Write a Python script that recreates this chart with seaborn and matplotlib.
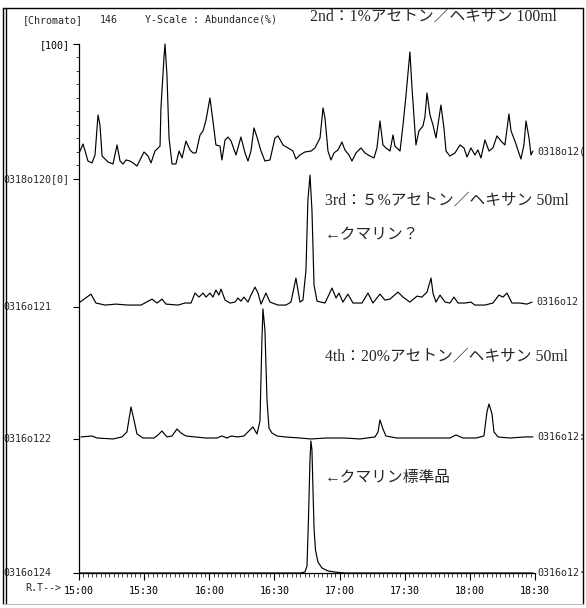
import numpy as np
import pandas as pd
import matplotlib
matplotlib.use("Agg")
import matplotlib.pyplot as plt
import seaborn as sns
from matplotlib.ticker import MultipleLocator, FixedLocator
from matplotlib.lines import Line2D

# ---------------- data (retention time in min, abundance in %) ----------------
t_2nd = [15.008, 15.031, 15.069, 15.100, 15.123, 15.146, 15.161, 15.177, 15.223, 15.261,
         15.292, 15.315, 15.338, 15.361, 15.391, 15.415, 15.445, 15.476, 15.499, 15.530,
         15.553, 15.583, 15.622, 15.629, 15.652, 15.660, 15.675, 15.691, 15.714, 15.744,
         15.768, 15.791, 15.821, 15.852, 15.875, 15.898, 15.929, 15.952, 15.975, 16.005,
         16.028, 16.051, 16.082, 16.097, 16.121, 16.144, 16.167, 16.205, 16.243, 16.274,
         16.297, 16.320, 16.343, 16.366, 16.397, 16.427, 16.466, 16.504, 16.527, 16.566,
         16.604, 16.642, 16.665, 16.696, 16.734, 16.781, 16.811, 16.850, 16.873, 16.888,
         16.911, 16.934, 16.957, 16.988, 17.018, 17.041, 17.072, 17.095, 17.126, 17.164,
         17.195, 17.233, 17.264, 17.287, 17.310, 17.333, 17.356, 17.387, 17.410, 17.425,
         17.464, 17.487, 17.510, 17.540, 17.556, 17.579, 17.586, 17.609, 17.640, 17.655,
         17.671, 17.694, 17.717, 17.740, 17.778, 17.801, 17.817, 17.847, 17.886, 17.924,
         17.955, 17.978, 18.008, 18.039, 18.062, 18.085, 18.116, 18.147, 18.177, 18.208,
         18.239, 18.269, 18.300, 18.316, 18.346, 18.369, 18.392, 18.415, 18.431, 18.454,
         18.469, 18.484]
v_2nd = [20.7, 25.9, 13.3, 11.9, 17.8, 47.4, 40.0, 17.0, 12.6, 11.1,
         25.2, 13.3, 11.1, 14.1, 13.3, 11.9, 9.6, 15.6, 20.0, 17.0,
         11.9, 20.7, 24.4, 52.6, 89.6, 100.0, 77.0, 30.4, 11.1, 11.1,
         20.7, 15.6, 28.1, 21.5, 19.3, 19.3, 32.6, 35.6, 43.7, 60.0,
         43.0, 25.2, 24.4, 14.1, 28.9, 31.1, 28.1, 17.8, 31.1, 19.3,
         13.3, 20.7, 37.8, 31.1, 20.7, 13.3, 14.1, 30.4, 31.9, 25.2,
         23.0, 20.7, 14.8, 17.8, 20.0, 20.7, 23.0, 30.4, 52.6, 45.2,
         20.7, 14.1, 19.3, 21.5, 27.4, 21.5, 17.8, 13.3, 19.3, 23.0,
         19.3, 17.0, 15.6, 23.0, 43.0, 25.2, 23.0, 20.7, 32.6, 24.4,
         20.7, 40.0, 62.2, 94.1, 67.4, 35.6, 25.2, 35.6, 39.3, 45.9,
         63.7, 47.4, 40.0, 30.4, 54.8, 37.8, 20.7, 17.0, 19.3, 25.2,
         23.0, 16.3, 23.0, 17.8, 21.5, 15.6, 28.9, 20.7, 23.0, 31.9,
         28.1, 25.2, 48.1, 35.6, 28.1, 21.5, 14.8, 25.2, 43.0, 30.4,
         17.8, 20.7]

t_3rd = [15.008, 15.092, 15.130, 15.200, 15.284, 15.376, 15.476, 15.560, 15.599, 15.637,
         15.668, 15.760, 15.813, 15.860, 15.890, 15.921, 15.952, 15.975, 16.005, 16.028,
         16.051, 16.074, 16.090, 16.121, 16.159, 16.197, 16.220, 16.243, 16.266, 16.297,
         16.320, 16.351, 16.374, 16.397, 16.435, 16.466, 16.527, 16.589, 16.627, 16.665,
         16.696, 16.719, 16.742, 16.757, 16.773, 16.788, 16.804, 16.827, 16.888, 16.942,
         16.973, 16.995, 17.026, 17.064, 17.103, 17.172, 17.218, 17.256, 17.310, 17.348,
         17.387, 17.448, 17.487, 17.540, 17.594, 17.632, 17.671, 17.702, 17.717, 17.740,
         17.771, 17.809, 17.847, 17.878, 17.909, 17.962, 18.008, 18.039, 18.116, 18.177,
         18.223, 18.254, 18.285, 18.323, 18.384, 18.438, 18.477]
v_3rd = [3.7, 9.6, 3.0, 1.5, 2.2, 1.5, 1.5, 5.9, 3.0, 5.9,
         2.2, 1.5, 3.0, 3.0, 10.4, 7.4, 10.4, 7.4, 10.4, 7.4,
         12.6, 8.9, 13.3, 5.2, 3.0, 3.7, 6.7, 4.4, 7.4, 3.7,
         8.9, 14.8, 10.4, 2.2, 10.4, 3.7, 1.5, 1.5, 3.7, 21.5,
         3.7, 5.2, 27.4, 79.3, 97.8, 71.9, 16.3, 4.4, 3.0, 14.1,
         6.7, 10.4, 3.7, 9.6, 3.0, 3.0, 10.4, 3.0, 9.6, 5.2,
         5.9, 11.1, 7.4, 3.7, 8.1, 7.4, 11.1, 21.5, 10.4, 3.7,
         8.9, 3.7, 3.0, 7.4, 3.0, 3.0, 3.7, 1.5, 1.5, 3.0,
         8.9, 7.4, 10.4, 3.0, 3.0, 2.2, 3.7]

t_4th = [15.015, 15.100, 15.138, 15.261, 15.330, 15.368, 15.399, 15.422, 15.445, 15.491,
         15.576, 15.607, 15.637, 15.675, 15.714, 15.752, 15.783, 15.821, 15.890, 15.975,
         16.059, 16.097, 16.136, 16.167, 16.220, 16.266, 16.297, 16.335, 16.366, 16.389,
         16.404, 16.412, 16.427, 16.443, 16.458, 16.481, 16.520, 16.581, 16.696, 16.781,
         16.896, 17.041, 17.157, 17.272, 17.295, 17.310, 17.333, 17.356, 17.440, 17.556,
         17.701, 17.847, 17.893, 17.947, 18.047, 18.108, 18.131, 18.147, 18.170, 18.185,
         18.216, 18.308, 18.423, 18.484]
v_4th = [1.5, 2.2, 0.7, 0.0, 1.5, 5.2, 23.7, 14.1, 3.7, 0.7,
         0.7, 3.0, 5.9, 1.5, 2.2, 7.4, 4.4, 2.2, 1.5, 0.7,
         0.7, 2.2, 0.7, 2.2, 1.5, 2.2, 5.2, 8.9, 3.7, 13.3,
         73.3, 96.3, 80.7, 28.9, 8.1, 4.4, 2.2, 1.5, 0.7, 0.0,
         0.7, 0.7, 0.0, 1.5, 5.2, 14.1, 7.4, 2.2, 0.7, 0.7,
         0.7, 0.7, 3.0, 0.7, 0.7, 2.2, 20.0, 25.9, 18.5, 5.2,
         1.5, 0.7, 1.5, 1.5]

t_std = [15.008, 16.696, 16.734, 16.750, 16.761, 16.773, 16.780, 16.788, 16.796, 16.804,
         16.815, 16.834, 16.865, 16.911, 16.965, 17.041, 18.484]
v_std = [0.0, 0.0, 0.7, 5.2, 39.3, 83.7, 97.8, 91.1, 61.5, 33.3,
         17.0, 8.1, 3.7, 1.5, 0.7, 0.0, 0.0]

left_labels = ["0318o120[0]", "0316o121", "0316o122", "0316o124"]
right_labels = ["0318o12(", "0316o12", "0316o12:", "0316o12\u00b7"]
x_tick_times = [15.0, 15.5, 16.0, 16.5, 17.0, 17.5, 18.0, 18.5]
x_tick_labels = ["15:00", "15:30", "16:00", "16:30", "17:00", "17:30", "18:00", "18:30"]
header_parts = ["[Chromato]", "146", "Y-Scale : Abundance(%)"]
notes = ["2nd\uff1a1%\u30a2\u30bb\u30c8\u30f3\uff0f\u30d8\u30ad\u30b5\u30f3 100ml",
         "3rd\uff1a\uff15%\u30a2\u30bb\u30c8\u30f3\uff0f\u30d8\u30ad\u30b5\u30f3 50ml",
         "\u2190\u30af\u30de\u30ea\u30f3\uff1f",
         "4th\uff1a20%\u30a2\u30bb\u30c8\u30f3\uff0f\u30d8\u30ad\u30b5\u30f3 50ml",
         "\u2190\u30af\u30de\u30ea\u30f3\u6a19\u6e96\u54c1"]

# ---------------- layout ----------------
sns.set_style("ticks")
MONO = ["DejaVu Sans Mono", "Noto Sans CJK JP"]
SERIF = ["Liberation Serif", "Noto Sans CJK JP"]
plt.rcParams["font.family"] = MONO

W, H = 586, 608
def fx(px):
    return px / W
def fy(py):
    return 1 - py / H

offsets = [291.9, 197.0, 99.3, 0.0]   # stacking offset of each run (track base)
top = 391.9

frames = []
for name, t, v, off in zip(left_labels, [t_2nd, t_3rd, t_4th, t_std],
                           [v_2nd, v_3rd, v_4th, v_std], offsets):
    frames.append(pd.DataFrame({"t": t, "y": np.asarray(v) + off, "run": name}))
df = pd.concat(frames, ignore_index=True)

fig = plt.figure(figsize=(W / 100, H / 100), dpi=100)
ax = fig.add_axes([fx(79), fy(573), (535 - 79) / W, (573 - 44) / H])

sns.lineplot(data=df, x="t", y="y", units="run", estimator=None, sort=False,
             color="black", lw=0.85, ax=ax, legend=False)
for line in ax.lines:
    line.set_clip_on(False)

ax.set_xlim(15.0, 18.5)
ax.set_ylim(0, top)
ax.set_xlabel("")
ax.set_ylabel("")
for s in ["top", "right"]:
    ax.spines[s].set_visible(False)
for s in ["left", "bottom"]:
    ax.spines[s].set_linewidth(0.9)
    ax.spines[s].set_color("black")

ax.xaxis.set_major_locator(FixedLocator(x_tick_times))
ax.set_xticklabels(x_tick_labels)
ax.xaxis.set_minor_locator(MultipleLocator(1 / 30))
ax.tick_params(axis="x", which="major", direction="out", length=5, width=0.8,
               labelsize=7.2, pad=4, colors="black")
ax.tick_params(axis="x", which="minor", direction="out", length=3, width=0.6)

ax.yaxis.set_major_locator(FixedLocator(offsets[::-1] + [top]))
ax.set_yticklabels(["", "", "", "", "[100]"])
ax.yaxis.set_minor_locator(FixedLocator([offsets[0] + 10 * k for k in range(1, 10)]))
ax.tick_params(axis="y", which="major", direction="out", length=4, width=0.8,
               labelsize=7.2, pad=3, colors="black")
ax.tick_params(axis="y", which="minor", direction="out", length=2.5, width=0.6)

# left run labels
for lab, off in zip(left_labels, offsets):
    ax.annotate(lab, xy=(0, off), xycoords=("figure fraction", "data"),
                xytext=(3, 0), textcoords="offset pixels", ha="left", va="center",
                fontsize=7.2, family=MONO, annotation_clip=False)

# right run labels at the end of each trace
for lab, t, v, off in zip(right_labels, [t_2nd, t_3rd, t_4th, t_std],
                          [v_2nd, v_3rd, v_4th, v_std], offsets):
    ax.annotate(lab, xy=(t[-1], v[-1] + off), xytext=(4, 0), textcoords="offset pixels",
                ha="left", va="center", fontsize=7.2, family=MONO, annotation_clip=False)

# header
fig.text(fx(23), fy(20), header_parts[0], fontsize=7.2, family=MONO, va="center")
fig.text(fx(100), fy(20), header_parts[1], fontsize=7.2, family=MONO, va="center")
fig.text(fx(145), fy(20), header_parts[2], fontsize=7.2, family=MONO, va="center")
fig.text(fx(25), fy(588), "R.T-->", fontsize=7.2, family=MONO, va="center")

# notes
note_pos = [(310, 17), (325, 201), (325, 235), (325, 357), (325, 478)]
for txt, (px, py) in zip(notes, note_pos):
    fig.text(fx(px), fy(py), txt, fontsize=11.3, family=SERIF, va="center", ha="left")

# outer frame of the printout
frame_kw = dict(color="black", transform=fig.transFigure, lw=1.0)
fig.add_artist(Line2D([fx(3), fx(3)], [fy(8), fy(604)], **frame_kw))
fig.add_artist(Line2D([fx(6), fx(6)], [fy(8), fy(604)], **frame_kw))
fig.add_artist(Line2D([fx(3), fx(583)], [fy(8), fy(8)], **frame_kw))
fig.add_artist(Line2D([fx(583), fx(583)], [fy(8), fy(604)], **frame_kw))
fig.add_artist(Line2D([fx(3), fx(583)], [fy(604), fy(604)], color="#bbbbbb",
                      transform=fig.transFigure, lw=0.8))

fig.savefig("out.png", dpi=100, facecolor="white")
